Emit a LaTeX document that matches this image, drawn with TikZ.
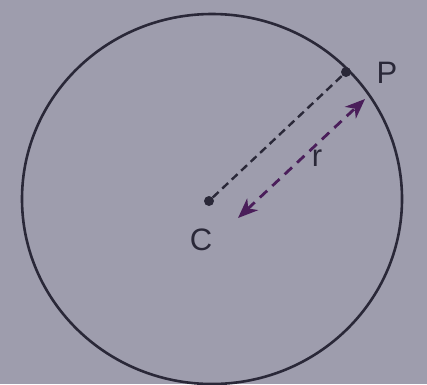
\documentclass[tikz,border=0pt]{standalone}
\usepackage{fontspec}
\setmainfont{Liberation Sans}
\usetikzlibrary{arrows.meta}
\definecolor{bg}{HTML}{9E9DAD}
\definecolor{ink}{HTML}{2A2838}
\definecolor{arr}{HTML}{4A1E5A}
\tikzset{
  lbl/.style={font=\fontsize{31}{34}\selectfont, text=ink, inner sep=0pt},
  dotpt/.style={circle, fill=ink, inner sep=0pt, minimum size=10pt},
}
\begin{document}
\begin{tikzpicture}[x=1pt,y=-1pt]
\fill[bg] (0,0) rectangle (427,384);
\useasboundingbox (0,0) rectangle (427,384);
\draw[ink, line width=2.6pt] (212,199) ellipse [x radius=190, y radius=185];
\node[dotpt] (c) at (209,201) {};
\node[dotpt] (p) at (346,72) {};
\node[lbl] (cl) at (201,240) {C};
\node[lbl] (pl) at (387,73) {P};
\draw[ink, line width=2.4pt, dash pattern=on 8pt off 5pt] (c) -- (p);
\coordinate (a1) at (238,218);
\coordinate (a2) at (365,99);
\draw[arr, line width=2.8pt, dash pattern=on 10pt off 7pt, {Stealth[length=20pt,width=16pt,inset=6pt]}-{Stealth[length=20pt,width=16pt,inset=6pt]}] (a1) -- (a2);
\node[lbl, text=ink] (r) at (317,158) {r};
\end{tikzpicture}
\end{document}
